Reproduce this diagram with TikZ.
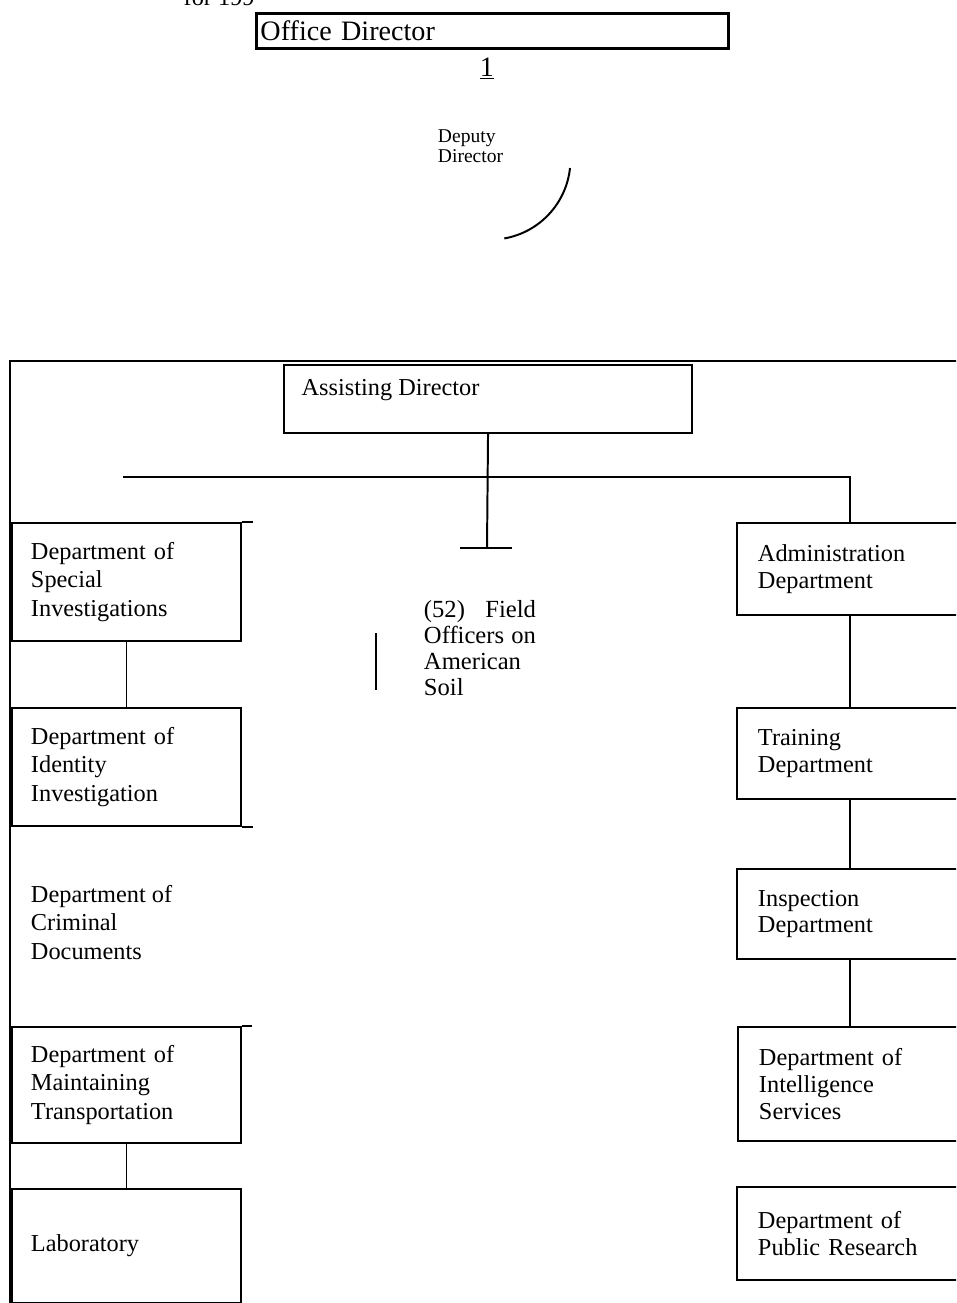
\documentclass[tikz,border=0pt]{standalone}
\usepackage{fontspec}
\setmainfont{Liberation Serif}
\usetikzlibrary{positioning,calc}

\newcommand{\bodyfont}{\fontsize{17.3}{20.3}\selectfont}
\newcommand{\headfont}{\fontsize{20}{24}\selectfont}

\begin{document}
\begin{tikzpicture}[x=0.025cm, y=-0.025cm, line width=1.4pt,
  lbox/.style={draw, anchor=north west, align=left, inner xsep=0.475cm, inner ysep=0pt, text width=4.775cm, font=\bodyfont},
  rbox/.style={draw, anchor=north west, align=left, inner xsep=0.525cm, inner ysep=0pt, text width=4.925cm, font=\fontsize{17.3}{19}\selectfont}]
\clip (0,0) rectangle (956,1303);
% top part
\node[anchor=base west, font=\bodyfont] (yr) at (178,5) {for 199};
\node[draw, line width=2.1pt, anchor=north west, minimum width=11.8cm, minimum height=0.875cm, inner xsep=0.1cm, text width=11.6cm, align=left, font=\headfont] (od) at (255,12) {Office Director};
\node[anchor=base, font=\headfont] (one) at (487,76) {\underline{1}};
\node[anchor=north west, align=left, inner sep=0pt, font=\fontsize{13.9}{14.2}\selectfont] (dep) at (437,129) {Deputy\\Director};
\coordinate (arcA) at (570,168);
\draw (arcA) arc[start angle=-6, end angle=-80, radius=2cm];
% frame
\coordinate (fA) at (10,1310);
\coordinate (fB) at (10,361);
\coordinate (fC) at (970,361);
\draw[line width=1.6pt] (fA) -- (fB) -- (fC);
% assisting director
\node[draw, anchor=north west, minimum width=10.2cm, minimum height=1.7cm] (ad) at (283,364) {};
\node[anchor=base west, font=\bodyfont] (adtext) at ($(ad.north west)+(13,31)$) {Assisting Director};
% left column
\node[lbox, minimum height=2.95cm] (spi) at (11,522) {Department of\\Special\\Investigations};
\node[lbox, minimum height=2.95cm] (idi) at (11,707) {Department of\\Identity\\Investigation};
\node[anchor=north west, align=left, inner sep=0pt, font=\bodyfont] (crd) at (30,884) {Department of\\Criminal\\Documents};
\node[lbox, minimum height=2.9cm] (mtr) at (11,1026) {Department of\\Maintaining\\Transportation};
\node[lbox, minimum height=2.85cm] (lab) at (11,1188) {Laboratory};
\draw (spi.north east) -- ++(11,0);
\draw (idi.south east) -- ++(11,0);
\draw (mtr.north east) -- ++(10,0);
\draw (lab.south east) -- ++(9,0);
\draw (spi.south) -- (idi.north);
\draw (mtr.south) -- (lab.north);
% right column
\node[rbox, minimum height=2.3cm] (adm) at (736,522) {Administration\\Department};
\node[rbox, minimum height=2.275cm] (trd) at (736,707) {Training\\Department};
\node[rbox, minimum height=2.25cm] (isp) at (736,868) {Inspection\\Department};
\node[rbox, minimum height=2.85cm] (ints) at (737,1026) {Department of\\Intelligence\\Services};
\node[rbox, minimum height=2.325cm] (pub) at (736,1186) {Department of\\Public Research};
% bus
\coordinate (tbar) at (487,548);
\coordinate (busL) at (123,477);
\coordinate (busR) at (850,477);
\draw (ad.south) -- (tbar);
\draw ($(tbar)+(-27,0)$) -- ($(tbar)+(25,0)$);
\draw (busL) -- (busR) -- (busR |- adm.north);
\draw (busR |- adm.south) -- (busR |- trd.north);
\draw (busR |- trd.south) -- (busR |- isp.north);
\draw[line width=2.1pt] (busR |- isp.south) -- (busR |- ints.north);
% field officers
\node[anchor=north west, align=left, inner sep=0pt, font=\fontsize{17.5}{18.7}\selectfont] (fo) at (423,599) {\makebox[2.8cm][s]{(52) Field}\\\makebox[2.8cm][s]{Officers on}\\American\\Soil};
\coordinate (foA) at (376,633);
\coordinate (foB) at (376,690);
\draw (foA) -- (foB);
\end{tikzpicture}
\end{document}
